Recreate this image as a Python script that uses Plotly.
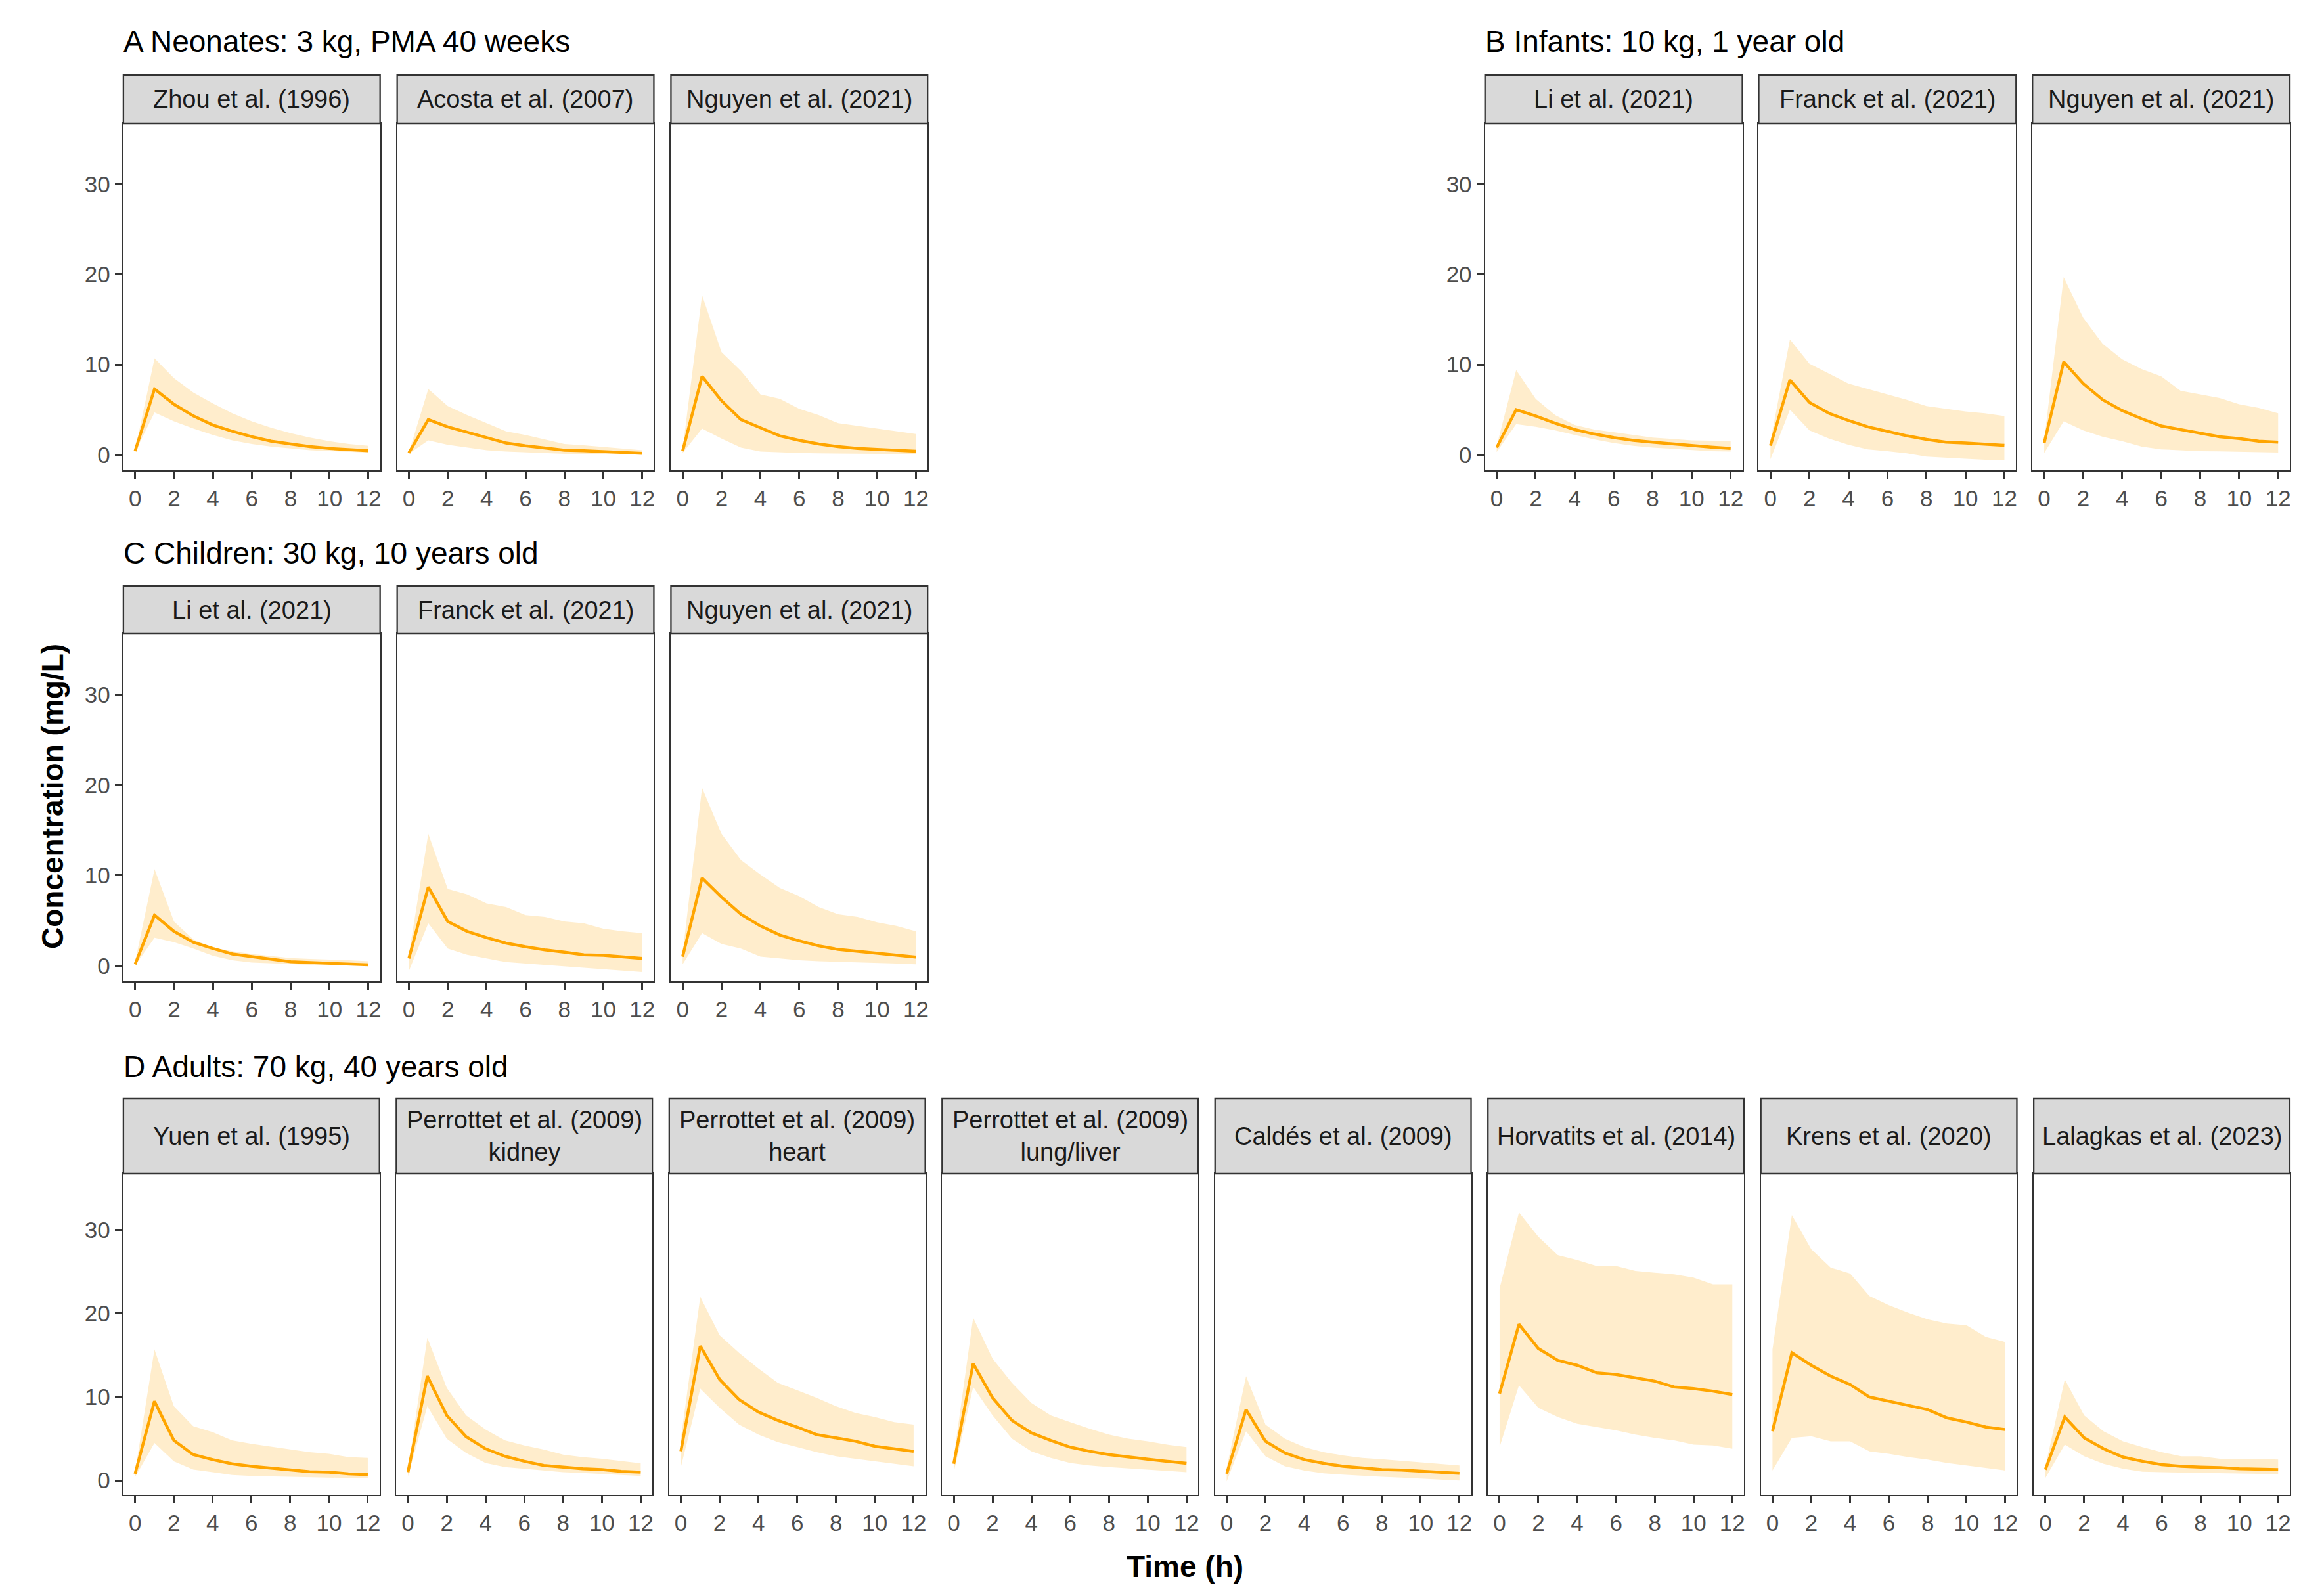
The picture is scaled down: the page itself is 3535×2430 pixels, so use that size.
import plotly.graph_objects as go

W, H = 3535, 2430

time_h = [0, 1, 2, 3, 4, 5, 6, 7, 8, 9, 10, 11, 12]
x_ticks = [0, 2, 4, 6, 8, 10, 12]
y_ticks = [0, 10, 20, 30]

panel_titles = ["A Neonates: 3 kg, PMA 40 weeks", "B Infants: 10 kg, 1 year old",
                "C Children: 30 kg, 10 years old", "D Adults: 70 kg, 40 years old"]

# ---- A Neonates ----
zhou_med = [0.4, 7.3, 5.6, 4.3, 3.3, 2.6, 2.0, 1.5, 1.2, 0.9, 0.7, 0.55, 0.45]
zhou_lo = [0.3, 4.7, 3.7, 2.9, 2.2, 1.6, 1.2, 0.9, 0.7, 0.5, 0.4, 0.3, 0.25]
zhou_hi = [0.5, 10.7, 8.5, 6.9, 5.7, 4.6, 3.7, 3.0, 2.4, 1.9, 1.5, 1.2, 1.0]

acosta_med = [0.2, 3.9, 3.1, 2.5, 1.9, 1.3, 1.0, 0.75, 0.5, 0.45, 0.35, 0.25, 0.15]
acosta_lo = [0.1, 1.6, 1.1, 0.8, 0.5, 0.35, 0.25, 0.15, 0.1, 0.08, 0.05, 0.03, 0.02]
acosta_hi = [0.25, 7.3, 5.4, 4.4, 3.5, 2.6, 2.2, 1.7, 1.2, 1.05, 0.85, 0.7, 0.5]

nguyenA_med = [0.4, 8.7, 6.0, 3.9, 3.0, 2.1, 1.6, 1.2, 0.9, 0.7, 0.6, 0.5, 0.4]
nguyenA_lo = [0.2, 2.9, 1.8, 0.8, 0.35, 0.25, 0.2, 0.15, 0.12, 0.1, 0.1, 0.1, 0.1]
nguyenA_hi = [0.6, 17.7, 11.4, 9.3, 6.7, 6.2, 5.1, 4.4, 3.5, 3.2, 2.9, 2.6, 2.3]

# ---- B Infants ----
liB_med = [0.8, 5.0, 4.3, 3.5, 2.8, 2.3, 1.9, 1.6, 1.4, 1.2, 1.0, 0.85, 0.7]
liB_lo = [0.3, 3.4, 3.1, 2.7, 2.2, 1.7, 1.3, 1.0, 0.8, 0.65, 0.5, 0.4, 0.35]
liB_hi = [1.0, 9.4, 6.2, 4.4, 3.3, 2.8, 2.5, 2.2, 1.9, 1.75, 1.6, 1.55, 1.5]

franckB_med = [1.0, 8.3, 5.8, 4.6, 3.8, 3.1, 2.6, 2.1, 1.7, 1.4, 1.3, 1.2, 1.05]
franckB_lo = [-0.5, 5.0, 2.7, 1.8, 1.1, 0.6, 0.4, 0.15, -0.2, -0.35, -0.45, -0.55, -0.6]
franckB_hi = [1.5, 12.8, 10.1, 9.0, 7.9, 7.3, 6.7, 6.1, 5.4, 5.1, 4.8, 4.6, 4.3]

nguyenB_med = [1.3, 10.3, 7.9, 6.1, 4.9, 4.0, 3.2, 2.8, 2.4, 2.0, 1.8, 1.5, 1.4]
nguyenB_lo = [0.2, 3.7, 2.7, 2.0, 1.5, 0.9, 0.6, 0.5, 0.4, 0.38, 0.35, 0.3, 0.25]
nguyenB_hi = [1.6, 19.7, 15.2, 12.3, 10.6, 9.5, 8.7, 7.1, 6.7, 6.3, 5.6, 5.2, 4.6]

# ---- C Children ----
liC_med = [0.15, 5.6, 3.8, 2.6, 1.9, 1.3, 1.0, 0.7, 0.45, 0.35, 0.25, 0.18, 0.1]
liC_lo = [0.0, 3.1, 2.6, 1.9, 1.1, 0.6, 0.35, 0.25, 0.15, 0.1, 0.05, 0.02, 0.0]
liC_hi = [0.4, 10.7, 4.9, 2.9, 2.0, 1.6, 1.3, 1.05, 0.85, 0.75, 0.7, 0.6, 0.5]

franckC_med = [0.8, 8.7, 4.9, 3.8, 3.1, 2.5, 2.1, 1.75, 1.5, 1.2, 1.15, 1.0, 0.8]
franckC_lo = [-0.6, 4.7, 1.9, 1.2, 0.8, 0.4, 0.25, 0.1, -0.1, -0.2, -0.35, -0.5, -0.7]
franckC_hi = [1.2, 14.6, 8.5, 7.9, 6.9, 6.5, 5.6, 5.4, 4.9, 4.7, 4.1, 3.8, 3.6]

nguyenC_med = [1.0, 9.7, 7.6, 5.7, 4.4, 3.4, 2.75, 2.2, 1.8, 1.6, 1.4, 1.15, 0.95]
nguyenC_lo = [0.15, 3.6, 2.4, 1.9, 1.0, 0.8, 0.6, 0.5, 0.45, 0.4, 0.35, 0.25, 0.15]
nguyenC_hi = [1.3, 19.7, 14.6, 11.7, 10.1, 8.6, 7.7, 6.5, 5.7, 5.4, 4.8, 4.4, 3.8]

# ---- D Adults ----
yuen_med = [0.8, 9.5, 4.8, 3.1, 2.5, 2.0, 1.7, 1.5, 1.3, 1.05, 1.0, 0.8, 0.7]
yuen_lo = [0.4, 4.5, 2.3, 1.3, 1.0, 0.65, 0.55, 0.5, 0.45, 0.4, 0.35, 0.3, 0.25]
yuen_hi = [1.0, 15.7, 8.9, 6.5, 5.8, 4.8, 4.4, 4.05, 3.7, 3.4, 3.2, 2.8, 2.7]

perK_med = [1.0, 12.5, 7.8, 5.25, 3.8, 2.9, 2.3, 1.8, 1.6, 1.4, 1.3, 1.1, 1.0]
perK_lo = [0.5, 8.9, 5.0, 3.3, 2.1, 1.6, 1.4, 1.2, 1.0, 0.9, 0.8, 0.65, 0.55]
perK_hi = [1.3, 17.1, 11.1, 7.8, 6.1, 4.8, 4.2, 3.7, 3.1, 2.8, 2.6, 2.3, 2.05]

perH_med = [3.5, 16.1, 12.1, 9.7, 8.2, 7.2, 6.4, 5.5, 5.1, 4.7, 4.1, 3.8, 3.5]
perH_lo = [1.6, 11.0, 8.7, 6.7, 5.5, 4.6, 4.0, 3.4, 2.9, 2.6, 2.3, 2.05, 1.7]
perH_hi = [5.0, 22.0, 17.4, 15.3, 13.4, 11.7, 10.8, 9.9, 8.9, 8.1, 7.6, 7.0, 6.7]

perL_med = [2.0, 14.0, 9.9, 7.2, 5.7, 4.8, 4.0, 3.5, 3.1, 2.8, 2.55, 2.3, 2.05]
perL_lo = [1.0, 11.2, 7.8, 5.0, 3.5, 2.7, 2.1, 1.8, 1.6, 1.45, 1.3, 1.15, 1.0]
perL_hi = [2.8, 19.5, 14.6, 11.7, 9.3, 7.8, 7.0, 6.2, 5.5, 5.0, 4.7, 4.3, 4.0]

caldes_med = [0.8, 8.5, 4.7, 3.3, 2.5, 2.05, 1.7, 1.5, 1.3, 1.25, 1.1, 0.95, 0.85]
caldes_lo = [-0.1, 5.9, 2.9, 1.7, 1.2, 0.85, 0.7, 0.55, 0.45, 0.35, 0.25, 0.1, 0.0]
caldes_hi = [1.5, 12.5, 6.7, 5.0, 4.0, 3.4, 3.0, 2.7, 2.55, 2.35, 2.2, 2.0, 1.8]

horv_med = [10.4, 18.7, 15.8, 14.4, 13.8, 12.9, 12.7, 12.3, 11.9, 11.2, 11.0, 10.7, 10.3]
horv_lo = [4.0, 11.4, 8.7, 7.6, 6.8, 6.4, 6.0, 5.5, 5.1, 4.8, 4.3, 4.2, 3.8]
horv_hi = [23.0, 32.1, 29.2, 27.0, 26.4, 25.7, 25.7, 25.1, 24.9, 24.7, 24.3, 23.5, 23.5]

krens_med = [5.9, 15.3, 13.8, 12.5, 11.5, 10.0, 9.5, 9.0, 8.5, 7.5, 7.0, 6.4, 6.1]
krens_lo = [1.2, 5.1, 5.3, 4.7, 4.7, 3.5, 3.2, 2.8, 2.5, 2.1, 1.8, 1.5, 1.2]
krens_hi = [15.7, 31.8, 27.7, 25.5, 24.8, 22.1, 21.0, 20.1, 19.3, 18.8, 18.6, 17.2, 16.6]

lalag_med = [1.3, 7.6, 5.1, 3.8, 2.8, 2.3, 1.9, 1.7, 1.6, 1.55, 1.4, 1.35, 1.3]
lalag_lo = [0.3, 4.3, 2.9, 2.0, 1.4, 1.05, 1.0, 0.95, 0.9, 0.88, 0.85, 0.8, 0.75]
lalag_hi = [1.7, 12.1, 7.8, 5.9, 4.7, 4.0, 3.4, 2.9, 2.9, 2.6, 2.6, 2.6, 2.5]

# facet definitions: (row, label, med, lo, hi)
facets = [
    ("A", "Zhou et al. (1996)", zhou_med, zhou_lo, zhou_hi),
    ("A", "Acosta et al. (2007)", acosta_med, acosta_lo, acosta_hi),
    ("A", "Nguyen et al. (2021)", nguyenA_med, nguyenA_lo, nguyenA_hi),
    ("B", "Li et al. (2021)", liB_med, liB_lo, liB_hi),
    ("B", "Franck et al. (2021)", franckB_med, franckB_lo, franckB_hi),
    ("B", "Nguyen et al. (2021)", nguyenB_med, nguyenB_lo, nguyenB_hi),
    ("C", "Li et al. (2021)", liC_med, liC_lo, liC_hi),
    ("C", "Franck et al. (2021)", franckC_med, franckC_lo, franckC_hi),
    ("C", "Nguyen et al. (2021)", nguyenC_med, nguyenC_lo, nguyenC_hi),
    ("D", "Yuen et al. (1995)", yuen_med, yuen_lo, yuen_hi),
    ("D", "Perrottet et al. (2009)<br>kidney", perK_med, perK_lo, perK_hi),
    ("D", "Perrottet et al. (2009)<br>heart", perH_med, perH_lo, perH_hi),
    ("D", "Perrottet et al. (2009)<br>lung/liver", perL_med, perL_lo, perL_hi),
    ("D", "Caldés et al. (2009)", caldes_med, caldes_lo, caldes_hi),
    ("D", "Horvatits et al. (2014)", horv_med, horv_lo, horv_hi),
    ("D", "Krens et al. (2020)", krens_med, krens_lo, krens_hi),
    ("D", "Lalagkas et al. (2023)", lalag_med, lalag_lo, lalag_hi),
]

# layout geometry in pixels: lefts, width, strip_top, plot_top, plot_bottom
row_geom = {
    "A": ([180 + i * 417 for i in range(3)], 391, 106, 180, 708),
    "B": ([2254 + i * 417 for i in range(3)], 392, 106, 180, 708),
    "C": ([180 + i * 417 for i in range(3)], 391, 884, 957, 1486),
    "D": ([180 + i * 415.7 for i in range(8)], 390, 1665, 1779, 2268),
}
title_pos = {"A": (178, 55), "B": (2252, 55), "C": (178, 834), "D": (178, 1616)}

FONT = "Liberation Sans, Arial, sans-serif"
LINE = "#FFA500"
RIBBON = "rgba(255,165,0,0.2)"
DARK = "#333333"
Y_RANGE = [-1.72, 36.75]
X_RANGE = [-0.6, 12.6]


def fx(p):
    return p / W


def fy(p):
    return 1 - p / H


fig = go.Figure()
layout = dict(
    width=W, height=H, autosize=False,
    margin=dict(l=0, r=0, t=0, b=0),
    paper_bgcolor="white", plot_bgcolor="white",
    showlegend=False, font=dict(family=FONT),
)
shapes = []
annotations = []
row_counter = {"A": 0, "B": 0, "C": 0, "D": 0}

for k, (row, label, med, lo, hi) in enumerate(facets, start=1):
    idx = row_counter[row]
    row_counter[row] += 1
    lefts, width, s_top, p_top, p_bot = row_geom[row]
    left = lefts[idx]
    right = left + width
    xname = "x" if k == 1 else f"x{k}"
    yname = "y" if k == 1 else f"y{k}"

    fig.add_trace(go.Scatter(x=time_h, y=lo, mode="lines", line=dict(width=0, color=RIBBON),
                             hoverinfo="skip", xaxis=xname, yaxis=yname))
    fig.add_trace(go.Scatter(x=time_h, y=hi, mode="lines", line=dict(width=0, color=RIBBON),
                             fill="tonexty", fillcolor=RIBBON, hoverinfo="skip",
                             xaxis=xname, yaxis=yname))
    fig.add_trace(go.Scatter(x=time_h, y=med, mode="lines", line=dict(width=4.5, color=LINE),
                             xaxis=xname, yaxis=yname))

    first = idx == 0
    layout["xaxis" if k == 1 else f"xaxis{k}"] = dict(
        domain=[fx(left), fx(right)], anchor=yname, range=X_RANGE,
        tickvals=x_ticks, ticks="outside", ticklen=11, tickwidth=2.5, tickcolor=DARK,
        showgrid=False, zeroline=False, showline=True, mirror=True,
        linecolor=DARK, linewidth=2.3,
        tickfont=dict(size=35, color="#4D4D4D", family=FONT),
    )
    layout["yaxis" if k == 1 else f"yaxis{k}"] = dict(
        domain=[fy(p_bot), fy(p_top)], anchor=xname, range=Y_RANGE,
        tickvals=y_ticks, ticks="outside" if first else "", ticklen=11, tickwidth=2.5,
        tickcolor=DARK, showticklabels=first,
        showgrid=False, zeroline=False, showline=True, mirror=True,
        linecolor=DARK, linewidth=2.3,
        tickfont=dict(size=35, color="#4D4D4D", family=FONT),
    )
    # strip
    shapes.append(dict(type="rect", xref="paper", yref="paper",
                       x0=fx(left), x1=fx(right), y0=fy(p_top), y1=fy(s_top),
                       fillcolor="#D9D9D9", line=dict(color=DARK, width=2.3), layer="above"))
    annotations.append(dict(xref="paper", yref="paper", x=fx((left + right) / 2),
                            y=fy((s_top + p_top) / 2), text=label, showarrow=False,
                            xanchor="center", yanchor="middle",
                            font=dict(size=38, color="#1A1A1A", family=FONT)))

for i, row in enumerate(["A", "B", "C", "D"]):
    tx, ty = title_pos[row]
    annotations.append(dict(xref="paper", yref="paper", x=fx(tx), y=fy(ty),
                            text=panel_titles[i], showarrow=False,
                            xanchor="left", yanchor="middle",
                            font=dict(size=46, color="black", family=FONT)))

annotations.append(dict(xref="paper", yref="paper", x=fx(1797), y=fy(2377),
                        text="<b>Time (h)</b>", showarrow=False,
                        xanchor="center", yanchor="middle",
                        font=dict(size=46, color="black", family=FONT)))
annotations.append(dict(xref="paper", yref="paper", x=fx(72), y=fy(1204),
                        text="<b>Concentration (mg/L)</b>", showarrow=False, textangle=-90,
                        xanchor="center", yanchor="middle",
                        font=dict(size=46, color="black", family=FONT)))

layout["shapes"] = shapes
layout["annotations"] = annotations
fig.update_layout(**layout)
fig.write_html("out.html")
